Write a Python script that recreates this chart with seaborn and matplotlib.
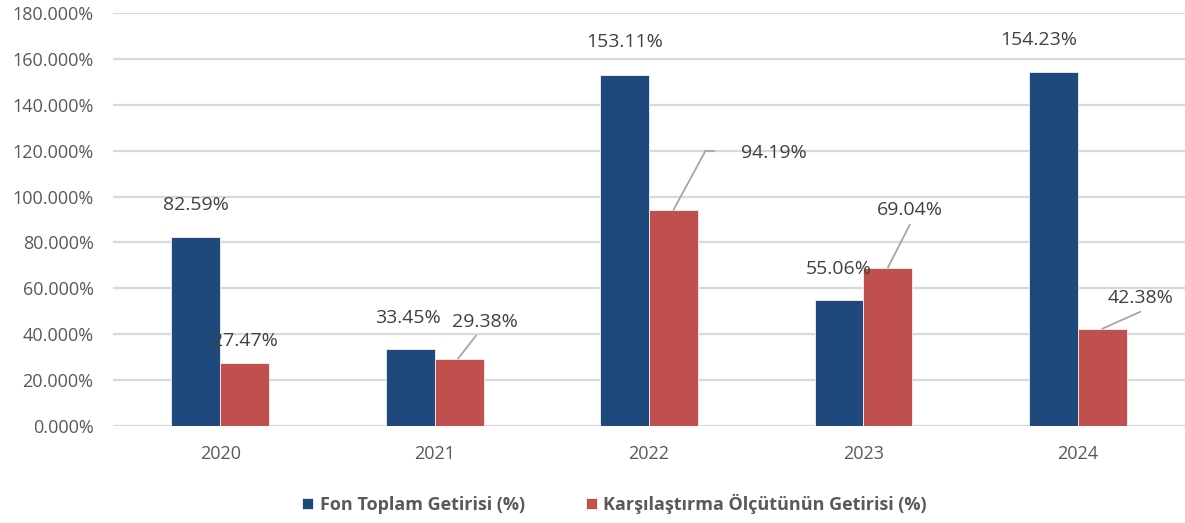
import pandas as pd
import matplotlib
matplotlib.use("Agg")
import matplotlib.pyplot as plt
import seaborn as sns
from matplotlib.ticker import FuncFormatter

# veriler
years = ["2020", "2021", "2022", "2023", "2024"]
fon = [82.59, 33.45, 153.11, 55.06, 154.23]
olcut = [27.47, 29.38, 94.19, 69.04, 42.38]
series_names = ["Fon Toplam Getirisi (%)", "Karşılaştırma Ölçütünün Getirisi (%)"]
palette = {series_names[0]: "#1F497D", series_names[1]: "#C0504D"}

df = pd.DataFrame({
    "year": years * 2,
    "value": fon + olcut,
    "series": [series_names[0]] * len(years) + [series_names[1]] * len(years),
})

sns.set_style("white")
plt.rcParams["font.family"] = ["Open Sans", "DejaVu Sans"]

fig = plt.figure(figsize=(11.85, 5.23), dpi=100)
ax = fig.add_axes([0.0954, 0.1855, 0.9046, 0.7895])

sns.barplot(data=df, x="year", y="value", hue="series", palette=palette,
            width=0.456, gap=0, saturation=1, ax=ax, legend=True,
            edgecolor="#f2f2f2", linewidth=0.6)

ax.set_ylim(0, 180)
ax.set_xlim(-0.5, 4.5)
ax.set_yticks(range(0, 181, 20))
ax.yaxis.set_major_formatter(FuncFormatter(lambda v, p: f"{v:.3f}%"))
ax.grid(axis="y", color="#d9d9d9", linewidth=1.6)
ax.set_axisbelow(True)
for s in ax.spines.values():
    s.set_visible(False)
ax.tick_params(axis="both", length=0, labelsize=13, colors="#595959")
ax.tick_params(axis="y", pad=14)
ax.tick_params(axis="x", pad=14)
ax.set_xlabel("")
ax.set_ylabel("")

# etiket ofsetleri (piksel), leader çizgisi noktaları (piksel, çubuk tepesine göre)
fon_off = [(0, 32), (-2, 31), (0, 33), (0, 31), (-15, 32)]
olcut_off = [(0, 22), (26, 37), (100, 57), (22, 58), (38, 31)]
olcut_lead = [None, [(-1, 0), (17, 23)], [(0, 0), (32, 59), (41, 59)],
              [(0, 0), (22, 43)], [(0, 0), (38, 17)]]

inv = ax.transData.inverted()
containers = ax.containers
for cont, vals, offs, leads in [(containers[0], fon, fon_off, [None] * 5),
                                (containers[1], olcut, olcut_off, olcut_lead)]:
    for bar, v, (dx, dy), lead in zip(cont, vals, offs, leads):
        xc = bar.get_x() + bar.get_width() / 2
        ax.annotate(f"{v:.2f}%", xy=(xc, v), xytext=(dx, dy),
                    textcoords="offset pixels", ha="center", va="center",
                    fontsize=14, color="#404040")
        if lead:
            px, py = ax.transData.transform((xc, v))
            pts = [inv.transform((px + lx, py + ly)) for lx, ly in lead]
            ax.plot([p[0] for p in pts], [p[1] for p in pts],
                    color="#a6a6a6", lw=1.3, clip_on=False, zorder=3)

leg = ax.legend(loc="upper center", bbox_to_anchor=(0.468, -0.125), ncol=2,
                frameon=False, handlelength=0.6, handleheight=0.6,
                handletextpad=0.35, columnspacing=3.4,
                prop={"weight": "bold", "size": 13})
for t in leg.get_texts():
    t.set_color("#595959")

fig.savefig("out.png", dpi=100)
